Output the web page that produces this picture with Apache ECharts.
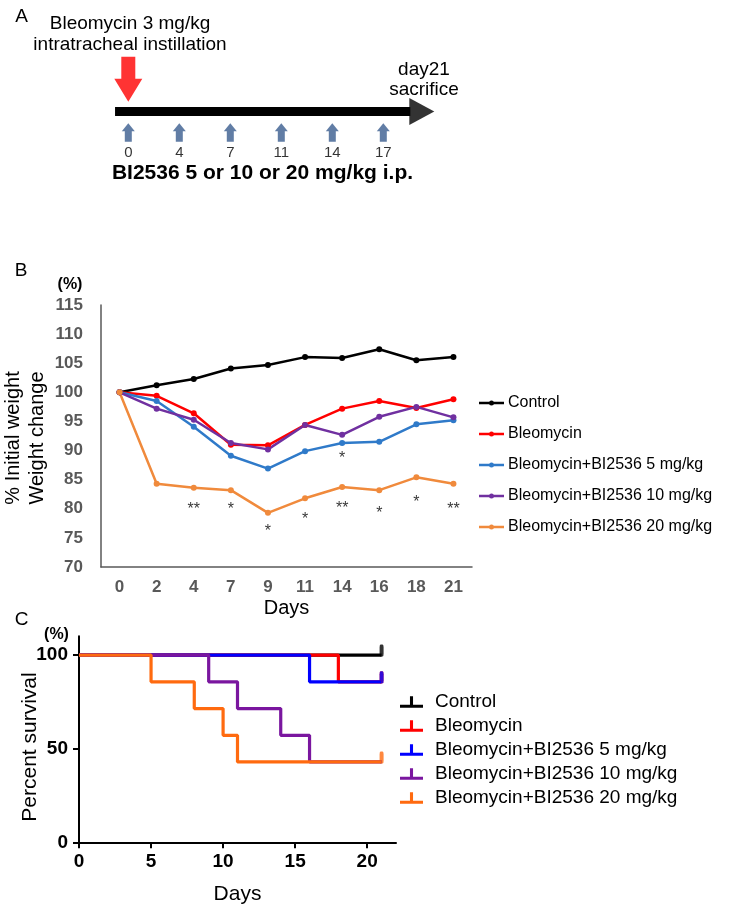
<!DOCTYPE html>
<html><head><meta charset="utf-8">
<script src="https://cdn.jsdelivr.net/npm/echarts@6/dist/echarts.min.js"></script>
<style>html,body{margin:0;padding:0;background:#fff}#c{width:744px;height:912px}</style>
</head><body><div id="c"></div>
<script>
// ---------- Panel A (schedule) ----------
const doseDays = ['0', '4', '7', '11', '14', '17'];
const timelineStart = -0.26;   // slot units (one slot per dose)
const timelineTip = 6;         // day 21 slot

// ---------- Panel B (weight change) ----------
const weightDays = ['0', '2', '4', '7', '9', '11', '14', '16', '18', '21'];
const wControl = [100, 101.2, 102.3, 104.1, 104.7, 106.05, 105.9, 107.4, 105.5, 106.05];
const wBleo    = [100, 99.4, 96.4, 91.0, 90.9, 94.4, 97.2, 98.5, 97.3, 98.8];
const wBI5     = [100, 98.5, 94.1, 89.1, 86.9, 89.9, 91.3, 91.5, 94.5, 95.2];
const wBI10    = [100, 97.2, 95.3, 91.3, 90.2, 94.4, 92.7, 95.8, 97.5, 95.7];
const wBI20    = [100, 84.3, 83.6, 83.2, 79.3, 81.8, 83.75, 83.2, 85.4, 84.3];
const sigMarks = [['4', 79.9, '**'], ['7', 79.8, '*'], ['9', 76.0, '*'], ['11', 78.2, '*'],
                  ['14', 88.7, '*'], ['14', 80.1, '**'], ['16', 79.2, '*'], ['18', 81.1, '*'], ['21', 79.8, '**']];

// ---------- Panel C (survival) ----------
const sControl = [[0, 100], [21, 100]];
const sBleo    = [[0, 100], [18, 85.7], [21, 85.7]];
const sBI5     = [[0, 100], [16, 85.7], [21, 85.7]];
const sBI10    = [[0, 100], [9, 85.7], [11, 71.4], [14, 57.1], [16, 42.9], [21, 42.9]];
const sBI20    = [[0, 100], [5, 85.7], [8, 71.4], [10, 57.1], [11, 42.9], [21, 42.9]];
const cControl = [[21, 100]];
const cBleo    = [[21, 85.7]];
const cBI5     = [[21, 85.7]];
const cBI20    = [[21, 42.9]];

const groupNames = ['Control', 'Bleomycin', 'Bleomycin+BI2536 5 mg/kg', 'Bleomycin+BI2536 10 mg/kg', 'Bleomycin+BI2536 20 mg/kg'];
const colorsB = ['#000000', '#ff0000', '#2f7ac9', '#7030a0', '#f08a3c'];
const colorsC = ['#000000', '#ff0000', '#0000ff', '#7a169f', '#ff6a0f'];

const FF = '"Liberation Sans", Arial, Helvetica, sans-serif';
const chart = echarts.init(document.getElementById('c'));

const weightSeries = [wControl, wBleo, wBI5, wBI10, wBI20].map((d, i) => ({
  name: groupNames[i], type: 'line', xAxisIndex: 1, yAxisIndex: 1, data: d,
  symbol: 'circle', symbolSize: 6, color: colorsB[i],
  lineStyle: { width: 2.5, color: colorsB[i] }, itemStyle: { color: colorsB[i] }
}));
const survSeries = [sControl, sBleo, sBI5, sBI10, sBI20].map((d, i) => ({
  name: 'C:' + groupNames[i], type: 'line', xAxisIndex: 2, yAxisIndex: 2, data: d, step: 'end',
  symbol: 'none', color: colorsC[i], lineStyle: { width: 3.2, color: colorsC[i] }
}));
const censorSets = [[cControl, 0], [cBleo, 1], [cBI5, 2], [cBI20, 4]];
const censorSeries = censorSets.map(([d, i]) => ({
  name: 'C:' + groupNames[i], type: 'scatter', xAxisIndex: 2, yAxisIndex: 2, data: d,
  symbol: 'roundRect', symbolSize: [4, 12], symbolOffset: [0, -4.5], itemStyle: { color: colorsC[i] }
}));

const txt = (x, y, text, o = {}) => ({
  type: 'text', x, y, rotation: o.rot || 0, silent: true,
  style: {
    text, fill: o.color || '#000', font: (o.weight || 'normal') + ' ' + (o.size || 19) + 'px ' + FF,
    align: o.align || 'center', verticalAlign: 'middle', textAlign: o.align || 'center', textVerticalAlign: 'middle',
    lineHeight: o.lh
  }
});

chart.setOption({
  animation: false,
  backgroundColor: '#fff',
  textStyle: { fontFamily: FF },
  grid: [
    { left: 102.8, top: 0, width: 357, height: 200 },
    { left: 101, top: 305, width: 371, height: 262 },
    { left: 79, top: 636.3, width: 317, height: 206 }
  ],
  xAxis: [
    { gridIndex: 0, type: 'value', min: -0.5, max: 6.5, show: false },
    { gridIndex: 1, type: 'category', data: weightDays, boundaryGap: true,
      axisLine: { lineStyle: { color: '#595959', width: 1.5 } }, axisTick: { show: false },
      axisLabel: { fontFamily: FF, fontSize: 17, fontWeight: 'bold', color: '#595959', margin: 12 },
      name: 'Days', nameLocation: 'middle', nameGap: 31, nameTextStyle: { fontFamily: FF, fontSize: 20, color: '#000' } },
    { gridIndex: 2, type: 'value', min: 0, max: 22, interval: 5,
      axisLine: { lineStyle: { color: '#000', width: 2 } },
      axisTick: { show: true, length: 6, customValues: [0, 5, 10, 15, 20], lineStyle: { color: '#000', width: 2 } },
      axisLabel: { customValues: [0, 5, 10, 15, 20], fontFamily: FF, fontSize: 19, fontWeight: 'bold', color: '#000', margin: 10 },
      splitLine: { show: false },
      name: 'Days', nameLocation: 'middle', nameGap: 41, nameTextStyle: { fontFamily: FF, fontSize: 21, color: '#000' } }
  ],
  yAxis: [
    { gridIndex: 0, type: 'value', min: 0, max: 200, inverse: true, show: false },
    { gridIndex: 1, type: 'value', min: 70, max: 115, interval: 5,
      axisLine: { show: true, lineStyle: { color: '#595959', width: 1.5 } }, axisTick: { show: false },
      splitLine: { show: false },
      axisLabel: { fontFamily: FF, fontSize: 17, fontWeight: 'bold', color: '#595959', margin: 18 } },
    { gridIndex: 2, type: 'value', min: 0, max: 110, interval: 50,
      axisLine: { show: true, lineStyle: { color: '#000', width: 2 } },
      axisTick: { show: true, length: 6, customValues: [0, 50, 100], lineStyle: { color: '#000', width: 2 } },
      axisLabel: { customValues: [0, 50, 100], fontFamily: FF, fontSize: 19, fontWeight: 'bold', color: '#000', margin: 11 },
      splitLine: { show: false } }
  ],
  legend: [
    { data: groupNames, orient: 'vertical', left: 479, top: 395, padding: 0, itemWidth: 25, itemHeight: 5, itemGap: 15,
      icon: 'path://M0,1.75h25v2.5h-25zM10,3a2.5,2.5 0 1,1 5,0a2.5,2.5 0 1,1 -5,0z',
      selectedMode: false, textStyle: { fontFamily: FF, fontSize: 16, color: '#000', padding: [0, 0, 0, -1] } },
    { data: groupNames.map(n => 'C:' + n), formatter: n => n.slice(2), orient: 'vertical', left: 400, top: 692.5, padding: 0,
      itemWidth: 23, itemHeight: 12, itemGap: 5, selectedMode: false,
      icon: 'path://M0,9h24v3.2h-24zM10.4,0h3.2v10h-3.2z',
      textStyle: { fontFamily: FF, fontSize: 19, color: '#000', padding: [0, 0, 0, 7] } }
  ],
  series: [
    // Panel A
    { type: 'line', xAxisIndex: 0, yAxisIndex: 0, data: [[timelineStart, 111.5], [timelineTip - 0.47, 111.5]],
      symbol: 'none', lineStyle: { width: 9, color: '#000', cap: 'butt' }, silent: true },
    { type: 'scatter', xAxisIndex: 0, yAxisIndex: 0, data: [[timelineTip, 111.5]], symbol: 'triangle',
      symbolRotate: -90, symbolSize: [27, 25], symbolOffset: [-12.5, 0], itemStyle: { color: '#000' }, silent: true },
    { type: 'scatter', xAxisIndex: 0, yAxisIndex: 0, data: [[0, 79.2]],
      symbol: 'path://M7,0H21V22H28L14,45L0,22H7Z', symbolSize: [28, 45],
      itemStyle: { color: '#ff0000' }, silent: true },
    { type: 'scatter', xAxisIndex: 0, yAxisIndex: 0, data: doseDays.map((d, i) => [i, 132.5, d]),
      symbol: 'path://M6.5,0L13,8L10,8L10,18.5L3,18.5L3,8L0,8Z', symbolSize: [13, 18.5],
      itemStyle: { color: '#3a5c8e' }, silent: true,
      label: { show: true, position: 'bottom', distance: 4, formatter: p => p.data[2], fontFamily: FF, fontSize: 15, color: '#000' } },
    // Panel B
    ...weightSeries,
    { type: 'scatter', xAxisIndex: 1, yAxisIndex: 1, data: sigMarks, symbolSize: 1, itemStyle: { color: 'rgba(0,0,0,0)' },
      silent: true,
      label: { show: true, position: 'inside', formatter: p => p.data[2], fontFamily: FF, fontSize: 16, color: '#000' } },
    // Panel C
    ...survSeries,
    ...censorSeries
  ],
  graphic: [
    txt(21.5, 16.5, 'A', { size: 19 }),
    txt(130, 23.3, 'Bleomycin 3 mg/kg', { size: 19 }),
    txt(130, 45, 'intratracheal instillation', { size: 19 }),
    txt(424, 70, 'day21', { size: 19 }),
    txt(424, 90, 'sacrifice', { size: 19 }),
    txt(262.5, 173.3, 'BI2536 5 or 10 or 20 mg/kg i.p.', { size: 21, weight: 'bold' }),
    txt(21, 271, 'B', { size: 19 }),
    txt(70, 284.5, '(%)', { size: 16, weight: 'bold' }),
    txt(25, 438, '% Initial weight\nWeight change', { size: 20, rot: Math.PI / 2, lh: 24 }),
    txt(21.5, 620, 'C', { size: 19 }),
    txt(56.5, 634.5, '(%)', { size: 16, weight: 'bold' }),
    txt(30, 747, 'Percent survival', { size: 21, rot: Math.PI / 2 })
  ]
});
</script></body></html>
